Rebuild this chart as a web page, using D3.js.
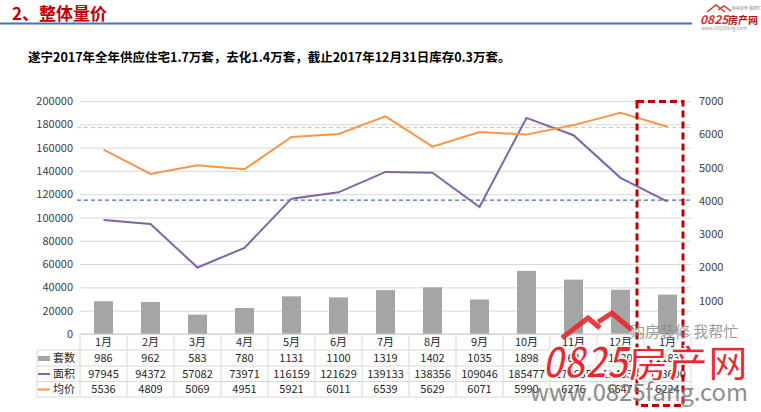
<!DOCTYPE html>
<html>
<head>
<meta charset="utf-8">
<script src="https://cdn.jsdelivr.net/npm/d3@7"></script>
<style>
  body { margin: 0; background: #fff; }
  svg text { font-family: "Noto Sans CJK SC", "Noto Sans", sans-serif; }
</style>
</head>
<body>
<div id="content"></div>
<script>
// chart data
var months = ["1月","2月","3月","4月","5月","6月","7月","8月","9月","10月","11月","12月","1月 "];
var sets = [986, 962, 583, 780, 1131, 1100, 1319, 1402, 1035, 1898, 1634, 1330, 1183];
var area = [97945, 94372, 57082, 73971, 116159, 121629, 139133, 138356, 109046, 185477, 170635, 134038, 113600];
var price = [5536, 4809, 5069, 4951, 5921, 6011, 6539, 5629, 6071, 5990, 6276, 6647, 6224];
var leftTicks = [0,20000,40000,60000,80000,100000,120000,140000,160000,180000,200000];
var rightTicks = [1000,2000,3000,4000,5000,6000,7000];
var refPrice = 6200;
var refArea = 115000;
var seriesNames = ["套数","面积","均价"];

var W = 761, H = 412;
var plotLeft = 80, plotRight = 691, plotTop = 101, plotBottom = 334;

var svg = d3.select("#content").append("svg")
              .attr("width", W)
              .attr("height", H);

// header
svg.append("text").attr("x", 12).attr("y", 20)
    .attr("fill", "#c00000").attr("font-size", 17).attr("font-weight", "bold")
    .text("2、整体量价");
svg.append("line").attr("x1", 0).attr("x2", 692).attr("y1", 23.5).attr("y2", 23.5)
    .attr("stroke", "#4472c4").attr("stroke-width", 2);
svg.append("text").attr("x", 28).attr("y", 62)
    .attr("fill", "#000").attr("font-size", 12.5).attr("font-weight", "bold")
    .text("遂宁2017年全年供应住宅1.7万套，去化1.4万套，截止2017年12月31日库存0.3万套。");

// small logo top right
var logo = svg.append("g");
logo.append("path").attr("d", "M707,12 L716,5 L725,12 M718,10 L724,6 L731,11")
    .attr("fill", "none").attr("stroke", "#e03030").attr("stroke-width", 1.5);
logo.append("text").attr("x", 700).attr("y", 24).attr("font-size", 12)
    .attr("font-weight", "bold").attr("font-style", "italic").attr("fill", "#e02a2a").text("0825");
logo.append("text").attr("x", 728).attr("y", 24).attr("font-size", 10)
    .attr("font-weight", "bold").attr("fill", "#b01818").text("房产网");
logo.append("text").attr("x", 732).attr("y", 10).attr("font-size", 4).attr("fill", "#888").text("购房装修 我帮忙");
logo.append("text").attr("x", 701).attr("y", 30).attr("font-size", 5).attr("fill", "#999").text("www.0825fang.com");

// scales
var xs = d3.scaleBand().domain(months).range([plotLeft, plotRight]);
var yL = d3.scaleLinear().domain([0, 200000]).range([plotBottom, plotTop]);
var yR = d3.scaleLinear().domain([0, 7000]).range([plotBottom, plotTop]);
function cx(i) { return xs(months[i]) + xs.bandwidth() / 2; }

// grid + left axis
var gL = svg.append("g").attr("transform", "translate(" + plotLeft + ",0)")
    .call(d3.axisLeft(yL).tickValues(leftTicks).tickSize(-(plotRight - plotLeft)).tickPadding(7).tickFormat(d3.format("d")));
gL.select(".domain").remove();
gL.selectAll(".tick line").attr("stroke", "#d9d9d9");
gL.selectAll(".tick text").attr("fill", "#404040").attr("font-size", 11);

var gR = svg.append("g").attr("transform", "translate(" + plotRight + ",0)")
    .call(d3.axisRight(yR).tickValues(rightTicks).tickSize(0).tickPadding(8).tickFormat(d3.format("d")));
gR.select(".domain").remove();
gR.selectAll(".tick text").attr("fill", "#404040").attr("font-size", 11);

// bars (right axis)
svg.append("g").selectAll("rect").data(sets).enter().append("rect")
    .attr("x", function(d, i) { return cx(i) - 9.5; })
    .attr("width", 19)
    .attr("y", function(d) { return yR(d); })
    .attr("height", function(d) { return plotBottom - yR(d); })
    .attr("fill", "#a5a5a5");

// reference dashed lines
svg.append("line").attr("x1", 77).attr("x2", plotRight).attr("y1", yR(refPrice)).attr("y2", yR(refPrice))
    .attr("stroke", "#f6b88a").attr("stroke-width", 1).attr("stroke-dasharray", "4,3");
svg.append("line").attr("x1", 77).attr("x2", plotRight).attr("y1", yL(refArea)).attr("y2", yL(refArea))
    .attr("stroke", "#4472c4").attr("stroke-width", 1.2).attr("stroke-dasharray", "4,3");

// lines
var areaLine = d3.line().x(function(d, i) { return cx(i); }).y(function(d) { return yL(d); });
var priceLine = d3.line().x(function(d, i) { return cx(i); }).y(function(d) { return yR(d); });
svg.append("path").datum(area).attr("d", areaLine)
    .attr("fill", "none").attr("stroke", "#7f64a8").attr("stroke-width", 2);
svg.append("path").datum(price).attr("d", priceLine)
    .attr("fill", "none").attr("stroke", "#f79646").attr("stroke-width", 2);

// data table
var rowsY = [334, 350, 366, 381.5, 397];
var tbl = svg.append("g");
tbl.append("line").attr("x1", plotLeft).attr("x2", plotRight).attr("y1", rowsY[0]).attr("y2", rowsY[0]).attr("stroke", "#d0d0d0");
for (var r = 1; r < rowsY.length; r++) {
  tbl.append("line").attr("x1", 37).attr("x2", plotRight).attr("y1", rowsY[r]).attr("y2", rowsY[r]).attr("stroke", "#d9d9d9");
}
tbl.append("line").attr("x1", 37).attr("x2", 37).attr("y1", rowsY[1]).attr("y2", rowsY[4]).attr("stroke", "#d9d9d9");
for (var k = 0; k <= months.length; k++) {
  var xv = plotLeft + k * xs.step();
  tbl.append("line").attr("x1", xv).attr("x2", xv).attr("y1", rowsY[0]).attr("y2", rowsY[4]).attr("stroke", "#d9d9d9");
}
var tableRows = [months, sets, area, price];
tableRows.forEach(function(row, ri) {
  tbl.selectAll(".r" + ri).data(row).enter().append("text")
      .attr("x", function(d, i) { return cx(i); })
      .attr("y", (rowsY[ri] + rowsY[ri + 1]) / 2 + 4)
      .attr("text-anchor", "middle").attr("font-size", 11).attr("fill", "#262626")
      .text(function(d) { return d; });
});
// legend keys in table
tbl.append("rect").attr("x", 38).attr("y", 356).attr("width", 12).attr("height", 5).attr("fill", "#a5a5a5");
tbl.append("line").attr("x1", 38).attr("x2", 50).attr("y1", 374).attr("y2", 374).attr("stroke", "#7f64a8").attr("stroke-width", 2);
tbl.append("line").attr("x1", 38).attr("x2", 50).attr("y1", 389.5).attr("y2", 389.5).attr("stroke", "#f79646").attr("stroke-width", 2);
seriesNames.forEach(function(n, i) {
  tbl.append("text").attr("x", 53).attr("y", (rowsY[i + 1] + rowsY[i + 2]) / 2 + 4)
      .attr("font-size", 11).attr("fill", "#262626").text(n);
});

// red dashed highlight box
svg.append("rect").attr("x", 637).attr("y", 101.5).attr("width", 46).attr("height", 304)
    .attr("fill", "none").attr("stroke", "#c00000").attr("stroke-width", 3).attr("stroke-dasharray", "7,4");

// watermark
var wm = svg.append("g");
wm.append("path").attr("d", "M562,338 L588,318 L600,328 M598,322 L612,313 L632,330")
    .attr("fill", "none").attr("stroke", "#e8282e").attr("stroke-width", 5).attr("opacity", 0.9);
wm.append("text").attr("x", 630).attr("y", 337).attr("font-size", 15).attr("fill", "#8a8a8a")
    .attr("opacity", 0.85).text("购房装修 我帮忙");
wm.append("text").attr("x", 542).attr("y", 378).attr("font-size", 44).attr("font-weight", "bold")
    .attr("font-style", "italic").attr("fill", "#e8282e").attr("stroke", "#fff").attr("stroke-width", 1.5)
    .attr("textLength", 86).attr("lengthAdjust", "spacingAndGlyphs").text("0825");
wm.append("text").attr("x", 628).attr("y", 377).attr("font-size", 38).attr("font-weight", "bold")
    .attr("fill", "#e8282e").attr("stroke", "#fff").attr("stroke-width", 1.5)
    .attr("textLength", 120).attr("lengthAdjust", "spacingAndGlyphs").text("房产网");
wm.append("text").attr("x", 530).attr("y", 401).attr("font-size", 24).attr("fill", "#7a7a7a")
    .attr("opacity", 0.85).attr("font-family", "DejaVu Sans")
    .attr("textLength", 218).attr("lengthAdjust", "spacingAndGlyphs").text("www.0825fang.com");
</script>
</body>
</html>
